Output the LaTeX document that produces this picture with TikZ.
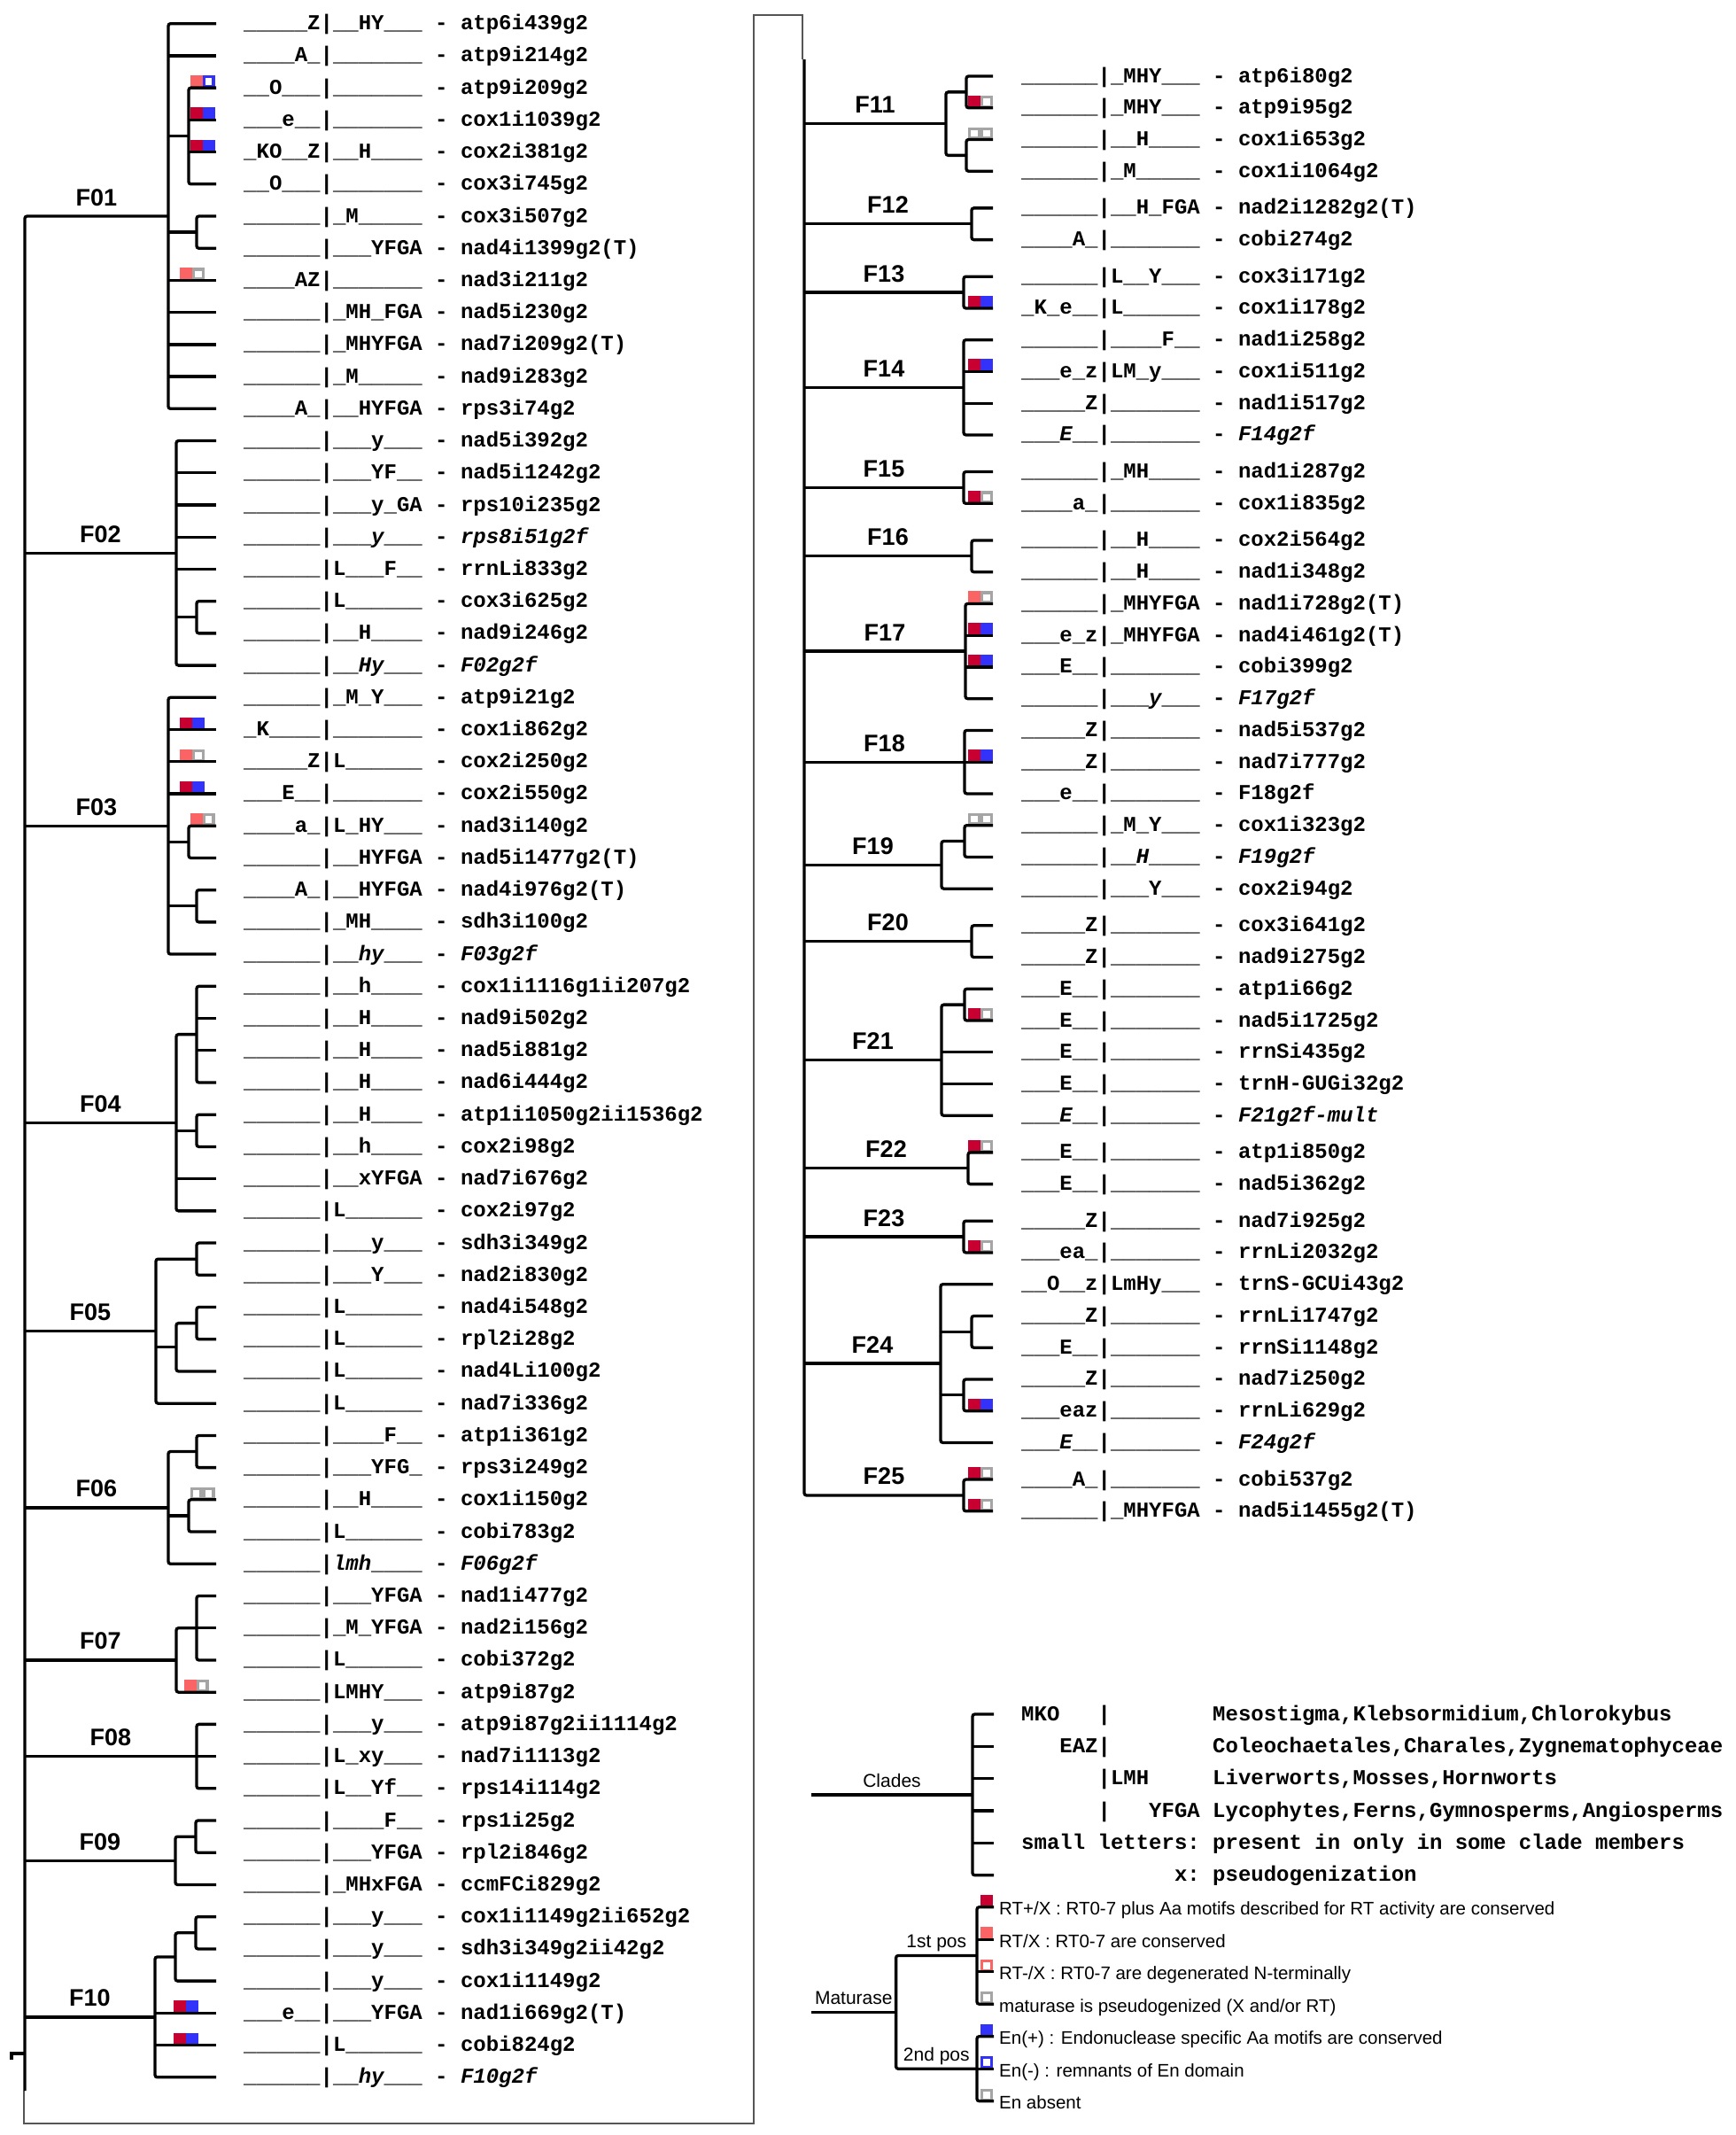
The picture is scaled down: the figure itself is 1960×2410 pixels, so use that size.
\documentclass[tikz,border=0pt]{standalone}
\usepackage{fontspec}
\newfontfamily\cour{Liberation Mono}
\newfontfamily\arl{Liberation Sans}
\definecolor{DRed}{RGB}{200,0,50}
\definecolor{LRed}{RGB}{250,100,100}
\definecolor{Bl}{RGB}{50,50,250}
\definecolor{Gr}{RGB}{165,165,165}
\definecolor{Fr}{RGB}{85,85,85}
\newcommand\myraw[1]{\detokenize{#1}}
\newcommand\LY[1]{(26.7+36.22*(#1))}
\newcommand\LM[2]{((\LY{#1}+\LY{#2})/2)}
\newcommand\RY[1]{(86+35.75*(#1)+5.85*(((#1)>3)+((#1)>5)+((#1)>11)+((#1)>13)+((#1)>25)+((#1)>32)+((#1)>34)+((#1)>42)))}
\newcommand\RM[2]{((\RY{#1}+\RY{#2})/2)}
\newcommand\hbr[3]{\draw[br] (#1,{#3}) -- (#2,{#3});}
\newcommand\bracketd[5]{\draw[br] (#2,{#3}) -- (#1,{#3}) -- (#1,{#5}) -- (#4,{#5});}
\newcommand\sqF[3]{\fill[#3] ({#1},{#2-14}) rectangle ({#1+14},{#2});}
\newcommand\sqO[3]{\fill[#3] ({#1},{#2-14}) rectangle ({#1+14},{#2});\fill[white] ({#1+3.2},{#2-10.8}) rectangle ({#1+10.8},{#2-3.2});}
\newcommand\mk[6]{\csname sq#3\endcsname{#1-14}{#2}{#4}\csname sq#5\endcsname{#1}{#2}{#6}}
\def\LTe{244}
\def\RTe{1121}
\newcommand\cyy[1]{(1935+36.35*(#1))}
\newcommand\myy[1]{(2152.7+36.5*(#1))}
\begin{document}
\begin{tikzpicture}[x=1pt,y=-1pt,
  br/.style={line width=3.3pt,rounded corners=2.5pt},
  frame/.style={line width=2.2pt,draw=Fr},
  lab/.style={anchor=base west,inner sep=0pt,font=\cour\bfseries\fontsize{24}{28}\selectfont},
  fam/.style={anchor=base,inner sep=0pt,font=\arl\bfseries\fontsize{27}{30}\selectfont},
  leg/.style={anchor=base west,inner sep=0pt,font=\arl\fontsize{20.5}{24}\selectfont},
  legc/.style={anchor=base,inner sep=0pt,font=\arl\fontsize{21}{24}\selectfont}]
\useasboundingbox (0,0) rectangle (1960,2410);
% ---------- family heights
\pgfmathsetmacro\yfA{\LM{0}{12}}
\pgfmathsetmacro\yfB{\LM{13}{20}}
\pgfmathsetmacro\yfC{\LM{21}{29}}
\pgfmathsetmacro\yfD{(\LM{30}{33}+\LY{37})/2}
\pgfmathsetmacro\yfE{(\LM{38}{39}+\LY{43})/2}
\pgfmathsetmacro\yfF{(\LM{44}{45}+\LY{48})/2}
\pgfmathsetmacro\yfG{(\LM{49}{51}+\LY{52})/2}
\pgfmathsetmacro\yfH{\LY{54}}
\pgfmathsetmacro\yfI{(\LM{56}{57}+\LY{58})/2}
\pgfmathsetmacro\yfJ{((\LM{59}{60}+\LY{61})/2+\LY{64})/2}
\pgfmathsetmacro\yfK{(\RM{0}{1}+\RM{2}{3})/2}
\pgfmathsetmacro\yfL{\RM{4}{5}}
\pgfmathsetmacro\yfM{\RM{6}{7}}
\pgfmathsetmacro\yfN{\RM{8}{11}}
\pgfmathsetmacro\yfO{\RM{12}{13}}
\pgfmathsetmacro\yfP{\RM{14}{15}}
\pgfmathsetmacro\yfQ{\RM{16}{19}}
\pgfmathsetmacro\yfR{\RY{21}}
\pgfmathsetmacro\yfS{(\RM{23}{24}+\RY{25})/2}
\pgfmathsetmacro\yfT{\RM{26}{27}}
\pgfmathsetmacro\yfU{(\RM{28}{29}+\RY{32})/2}
\pgfmathsetmacro\yfV{\RM{33}{34}}
\pgfmathsetmacro\yfW{\RM{35}{36}}
\pgfmathsetmacro\yfX{\RM{37}{42}}
\pgfmathsetmacro\yfY{\RM{43}{44}}
% ---------- markers (left)
\mk{228.5}{\LY{2}}{F}{LRed}{O}{Bl}
\mk{228.5}{\LY{3}}{F}{DRed}{F}{Bl}
\mk{228.5}{\LY{4}}{F}{DRed}{F}{Bl}
\mk{217}{\LY{8}}{F}{LRed}{O}{Gr}
\mk{217}{\LY{22}}{F}{DRed}{F}{Bl}
\mk{217}{\LY{23}}{F}{LRed}{O}{Gr}
\mk{217}{\LY{24}}{F}{DRed}{F}{Bl}
\mk{228.5}{\LY{25}}{F}{LRed}{O}{Gr}
\mk{228.5}{\LY{46}}{O}{Gr}{O}{Gr}
\mk{221.5}{\LY{52}}{F}{LRed}{O}{Gr}
\mk{209.5}{\LY{62}}{F}{DRed}{F}{Bl}
\mk{209.5}{\LY{63}}{F}{DRed}{F}{Bl}
% ---------- markers (right)
\mk{1107}{\RY{1}}{F}{DRed}{O}{Gr}
\mk{1107}{\RY{2}}{O}{Gr}{O}{Gr}
\mk{1107}{\RY{7}}{F}{DRed}{F}{Bl}
\mk{1107}{\RY{9}}{F}{DRed}{F}{Bl}
\mk{1107}{\RY{13}}{F}{DRed}{O}{Gr}
\mk{1107}{\RY{16}}{F}{LRed}{O}{Gr}
\mk{1107}{\RY{17}}{F}{DRed}{F}{Bl}
\mk{1107}{\RY{18}}{F}{DRed}{F}{Bl}
\mk{1107}{\RY{21}}{F}{DRed}{F}{Bl}
\mk{1107}{\RY{23}}{O}{Gr}{O}{Gr}
\mk{1107}{\RY{29}}{F}{DRed}{O}{Gr}
\mk{1107}{\RY{33}}{F}{DRed}{O}{Gr}
\mk{1107}{\RY{36}}{F}{DRed}{O}{Gr}
\mk{1107}{\RY{41}}{F}{DRed}{F}{Bl}
\mk{1107}{\RY{43}}{F}{DRed}{O}{Gr}
\mk{1107}{\RY{44}}{F}{DRed}{O}{Gr}
% ---------- frame
\draw[frame] (27,2360) -- (27,2397) -- (851,2397) -- (851,17) -- (906,17) -- (906,67);
\draw[line width=4pt] (13,2325) -- (13,2318) -- (28,2318);
% ---------- left roots
\draw[br] (190,\yfA) -- (28,\yfA) -- (28,2360);
\hbr{28}{199}{\yfB}
\hbr{28}{190}{\yfC}
\hbr{28}{199}{\yfD}
\hbr{28}{176}{\yfE}
\hbr{28}{190}{\yfF}
\hbr{28}{199}{\yfG}
\hbr{28}{222}{\yfH}
\hbr{28}{198}{\yfI}
\hbr{28}{175}{\yfJ}
% F01
\bracketd{190}{\LTe}{\LY{0}}{\LTe}{\LY{12}}
\foreach \i in {1,8,9,10,11} {\hbr{190}{\LTe}{\LY{\i}}}
\hbr{190}{213}{\LM{2}{5}}
\hbr{190}{222}{\LM{6}{7}}
\bracketd{213}{\LTe}{\LY{2}}{\LTe}{\LY{5}}
\foreach \i in {3,4} {\hbr{213}{\LTe}{\LY{\i}}}
\bracketd{222}{\LTe}{\LY{6}}{\LTe}{\LY{7}}
% F02
\bracketd{199}{\LTe}{\LY{13}}{\LTe}{\LY{20}}
\foreach \i in {14,15,16,17} {\hbr{199}{\LTe}{\LY{\i}}}
\hbr{199}{222}{\LM{18}{19}}
\bracketd{222}{\LTe}{\LY{18}}{\LTe}{\LY{19}}
% F03
\bracketd{190}{\LTe}{\LY{21}}{\LTe}{\LY{29}}
\foreach \i in {22,23,24} {\hbr{190}{\LTe}{\LY{\i}}}
\hbr{190}{213}{\LM{25}{26}}
\hbr{190}{222}{\LM{27}{28}}
\bracketd{213}{\LTe}{\LY{25}}{\LTe}{\LY{26}}
\bracketd{222}{\LTe}{\LY{27}}{\LTe}{\LY{28}}
% F04
\bracketd{199}{222}{\LM{30}{33}}{\LTe}{\LY{37}}
\hbr{199}{222}{\LM{34}{35}}
\hbr{199}{\LTe}{\LY{36}}
\bracketd{222}{\LTe}{\LY{30}}{\LTe}{\LY{33}}
\foreach \i in {31,32} {\hbr{222}{\LTe}{\LY{\i}}}
\bracketd{222}{\LTe}{\LY{34}}{\LTe}{\LY{35}}
% F05
\bracketd{176}{222}{\LM{38}{39}}{\LTe}{\LY{43}}
\hbr{176}{199}{(\LM{40}{41}+\LY{42})/2}
\bracketd{222}{\LTe}{\LY{38}}{\LTe}{\LY{39}}
\bracketd{199}{222}{\LM{40}{41}}{\LTe}{\LY{42}}
\bracketd{222}{\LTe}{\LY{40}}{\LTe}{\LY{41}}
% F06
\bracketd{190}{222}{\LM{44}{45}}{\LTe}{\LY{48}}
\hbr{190}{213}{\LM{46}{47}}
\bracketd{222}{\LTe}{\LY{44}}{\LTe}{\LY{45}}
\bracketd{213}{\LTe}{\LY{46}}{\LTe}{\LY{47}}
% F07
\bracketd{199}{222}{\LM{49}{51}}{\LTe}{\LY{52}}
\bracketd{222}{\LTe}{\LY{49}}{\LTe}{\LY{51}}
\hbr{222}{\LTe}{\LY{50}}
% F08
\bracketd{222}{\LTe}{\LY{53}}{\LTe}{\LY{55}}
\hbr{222}{\LTe}{\LY{54}}
% F09
\bracketd{198}{221}{\LM{56}{57}}{\LTe}{\LY{58}}
\bracketd{221}{\LTe}{\LY{56}}{\LTe}{\LY{57}}
% F10
\bracketd{175}{198}{(\LM{59}{60}+\LY{61})/2}{\LTe}{\LY{64}}
\foreach \i in {62,63} {\hbr{175}{\LTe}{\LY{\i}}}
\bracketd{198}{221}{\LM{59}{60}}{\LTe}{\LY{61}}
\bracketd{221}{\LTe}{\LY{59}}{\LTe}{\LY{60}}
% ---------- right roots
\draw[br] (908,67) -- (908,\yfY) -- (1088,\yfY);
\hbr{908}{1068}{\yfK}
\hbr{908}{1097}{\yfL}
\hbr{908}{1088}{\yfM}
\hbr{908}{1088}{\yfN}
\hbr{908}{1088}{\yfO}
\hbr{908}{1097}{\yfP}
\hbr{908}{1090}{\yfQ}
\hbr{908}{1089}{\yfR}
\hbr{908}{1063}{\yfS}
\hbr{908}{1097}{\yfT}
\hbr{908}{1063}{\yfU}
\hbr{908}{1093}{\yfV}
\hbr{908}{1088}{\yfW}
\hbr{908}{1062}{\yfX}
% F11
\bracketd{1068}{1091}{\RM{0}{1}}{1091}{\RM{2}{3}}
\bracketd{1091}{\RTe}{\RY{0}}{\RTe}{\RY{1}}
\bracketd{1091}{\RTe}{\RY{2}}{\RTe}{\RY{3}}
% F12-F18
\bracketd{1097}{\RTe}{\RY{4}}{\RTe}{\RY{5}}
\bracketd{1088}{\RTe}{\RY{6}}{\RTe}{\RY{7}}
\bracketd{1088}{\RTe}{\RY{8}}{\RTe}{\RY{11}}
\foreach \i in {9,10} {\hbr{1088}{\RTe}{\RY{\i}}}
\bracketd{1088}{\RTe}{\RY{12}}{\RTe}{\RY{13}}
\bracketd{1097}{\RTe}{\RY{14}}{\RTe}{\RY{15}}
\bracketd{1090}{\RTe}{\RY{16}}{\RTe}{\RY{19}}
\foreach \i in {17,18} {\hbr{1090}{\RTe}{\RY{\i}}}
\bracketd{1089}{\RTe}{\RY{20}}{\RTe}{\RY{22}}
\hbr{1089}{\RTe}{\RY{21}}
% F19
\bracketd{1063}{1089}{\RM{23}{24}}{\RTe}{\RY{25}}
\bracketd{1089}{\RTe}{\RY{23}}{\RTe}{\RY{24}}
% F20
\bracketd{1097}{\RTe}{\RY{26}}{\RTe}{\RY{27}}
% F21
\bracketd{1063}{1089}{\RM{28}{29}}{\RTe}{\RY{32}}
\foreach \i in {30,31} {\hbr{1063}{\RTe}{\RY{\i}}}
\bracketd{1089}{\RTe}{\RY{28}}{\RTe}{\RY{29}}
% F22, F23
\bracketd{1093}{\RTe}{\RY{33}}{\RTe}{\RY{34}}
\bracketd{1088}{\RTe}{\RY{35}}{\RTe}{\RY{36}}
% F24
\bracketd{1062}{\RTe}{\RY{37}}{\RTe}{\RY{42}}
\hbr{1062}{1097}{\RM{38}{39}}
\hbr{1062}{1088}{\RM{40}{41}}
\bracketd{1097}{\RTe}{\RY{38}}{\RTe}{\RY{39}}
\bracketd{1088}{\RTe}{\RY{40}}{\RTe}{\RY{41}}
% F25
\bracketd{1088}{\RTe}{\RY{43}}{\RTe}{\RY{44}}
% ---------- family labels
\node[fam] (f01) at ({(28+190)/2},{\yfA-12}) {F01};
\node[fam] (f02) at ({(28+199)/2},{\yfB-12}) {F02};
\node[fam] (f03) at ({(28+190)/2},{\yfC-12}) {F03};
\node[fam] (f04) at ({(28+199)/2},{\yfD-12}) {F04};
\node[fam] (f05) at ({(28+176)/2},{\yfE-12}) {F05};
\node[fam] (f06) at ({(28+190)/2},{\yfF-12}) {F06};
\node[fam] (f07) at ({(28+199)/2},{\yfG-12}) {F07};
\node[fam] (f08) at ({(28+222)/2},{\yfH-12}) {F08};
\node[fam] (f09) at ({(28+198)/2},{\yfI-12}) {F09};
\node[fam] (f10) at ({(28+175)/2},{\yfJ-12}) {F10};
\node[fam] (f11) at ({(908+1068)/2},{\yfK-12}) {F11};
\node[fam] (f12) at ({(908+1097)/2},{\yfL-12}) {F12};
\node[fam] (f13) at ({(908+1088)/2},{\yfM-12}) {F13};
\node[fam] (f14) at ({(908+1088)/2},{\yfN-12}) {F14};
\node[fam] (f15) at ({(908+1088)/2},{\yfO-12}) {F15};
\node[fam] (f16) at ({(908+1097)/2},{\yfP-12}) {F16};
\node[fam] (f17) at ({(908+1090)/2},{\yfQ-12}) {F17};
\node[fam] (f18) at ({(908+1089)/2},{\yfR-12}) {F18};
\node[fam] (f19) at ({(908+1063)/2},{\yfS-12}) {F19};
\node[fam] (f20) at ({(908+1097)/2},{\yfT-12}) {F20};
\node[fam] (f21) at ({(908+1063)/2},{\yfU-12}) {F21};
\node[fam] (f22) at ({(908+1093)/2},{\yfV-12}) {F22};
\node[fam] (f23) at ({(908+1088)/2},{\yfW-12}) {F23};
\node[fam] (f24) at ({(908+1062)/2},{\yfX-12}) {F24};
\node[fam] (f25) at ({(908+1088)/2},{\yfY-12}) {F25};
% ---------- left labels
\node[lab] (l0) at (275,{\LY{0}+7}) {\myraw{_____Z|__HY___} - atp6i439g2};
\node[lab] (l1) at (275,{\LY{1}+7}) {\myraw{____A_|_______} - atp9i214g2};
\node[lab] (l2) at (275,{\LY{2}+7}) {\myraw{__O___|_______} - atp9i209g2};
\node[lab] (l3) at (275,{\LY{3}+7}) {\myraw{___e__|_______} - cox1i1039g2};
\node[lab] (l4) at (275,{\LY{4}+7}) {\myraw{_KO__Z|__H____} - cox2i381g2};
\node[lab] (l5) at (275,{\LY{5}+7}) {\myraw{__O___|_______} - cox3i745g2};
\node[lab] (l6) at (275,{\LY{6}+7}) {\myraw{______|_M_____} - cox3i507g2};
\node[lab] (l7) at (275,{\LY{7}+7}) {\myraw{______|___YFGA} - nad4i1399g2(T)};
\node[lab] (l8) at (275,{\LY{8}+7}) {\myraw{____AZ|_______} - nad3i211g2};
\node[lab] (l9) at (275,{\LY{9}+7}) {\myraw{______|_MH_FGA} - nad5i230g2};
\node[lab] (l10) at (275,{\LY{10}+7}) {\myraw{______|_MHYFGA} - nad7i209g2(T)};
\node[lab] (l11) at (275,{\LY{11}+7}) {\myraw{______|_M_____} - nad9i283g2};
\node[lab] (l12) at (275,{\LY{12}+7}) {\myraw{____A_|__HYFGA} - rps3i74g2};
\node[lab] (l13) at (275,{\LY{13}+7}) {\myraw{______|___y___} - nad5i392g2};
\node[lab] (l14) at (275,{\LY{14}+7}) {\myraw{______|___YF__} - nad5i1242g2};
\node[lab] (l15) at (275,{\LY{15}+7}) {\myraw{______|___y_GA} - rps10i235g2};
\node[lab] (l16) at (275,{\LY{16}+7}) {\myraw{______|___}{\itshape y}\myraw{___} - {\itshape rps8i51g2f}};
\node[lab] (l17) at (275,{\LY{17}+7}) {\myraw{______|L___F__} - rrnLi833g2};
\node[lab] (l18) at (275,{\LY{18}+7}) {\myraw{______|L______} - cox3i625g2};
\node[lab] (l19) at (275,{\LY{19}+7}) {\myraw{______|__H____} - nad9i246g2};
\node[lab] (l20) at (275,{\LY{20}+7}) {\myraw{______|__}{\itshape Hy}\myraw{___} - {\itshape F02g2f}};
\node[lab] (l21) at (275,{\LY{21}+7}) {\myraw{______|_M_Y___} - atp9i21g2};
\node[lab] (l22) at (275,{\LY{22}+7}) {\myraw{_K____|_______} - cox1i862g2};
\node[lab] (l23) at (275,{\LY{23}+7}) {\myraw{_____Z|L______} - cox2i250g2};
\node[lab] (l24) at (275,{\LY{24}+7}) {\myraw{___E__|_______} - cox2i550g2};
\node[lab] (l25) at (275,{\LY{25}+7}) {\myraw{____a_|L_HY___} - nad3i140g2};
\node[lab] (l26) at (275,{\LY{26}+7}) {\myraw{______|__HYFGA} - nad5i1477g2(T)};
\node[lab] (l27) at (275,{\LY{27}+7}) {\myraw{____A_|__HYFGA} - nad4i976g2(T)};
\node[lab] (l28) at (275,{\LY{28}+7}) {\myraw{______|_MH____} - sdh3i100g2};
\node[lab] (l29) at (275,{\LY{29}+7}) {\myraw{______|__}{\itshape hy}\myraw{___} - {\itshape F03g2f}};
\node[lab] (l30) at (275,{\LY{30}+7}) {\myraw{______|__h____} - cox1i1116g1ii207g2};
\node[lab] (l31) at (275,{\LY{31}+7}) {\myraw{______|__H____} - nad9i502g2};
\node[lab] (l32) at (275,{\LY{32}+7}) {\myraw{______|__H____} - nad5i881g2};
\node[lab] (l33) at (275,{\LY{33}+7}) {\myraw{______|__H____} - nad6i444g2};
\node[lab] (l34) at (275,{\LY{34}+7}) {\myraw{______|__H____} - atp1i1050g2ii1536g2};
\node[lab] (l35) at (275,{\LY{35}+7}) {\myraw{______|__h____} - cox2i98g2};
\node[lab] (l36) at (275,{\LY{36}+7}) {\myraw{______|__xYFGA} - nad7i676g2};
\node[lab] (l37) at (275,{\LY{37}+7}) {\myraw{______|L______} - cox2i97g2};
\node[lab] (l38) at (275,{\LY{38}+7}) {\myraw{______|___y___} - sdh3i349g2};
\node[lab] (l39) at (275,{\LY{39}+7}) {\myraw{______|___Y___} - nad2i830g2};
\node[lab] (l40) at (275,{\LY{40}+7}) {\myraw{______|L______} - nad4i548g2};
\node[lab] (l41) at (275,{\LY{41}+7}) {\myraw{______|L______} - rpl2i28g2};
\node[lab] (l42) at (275,{\LY{42}+7}) {\myraw{______|L______} - nad4Li100g2};
\node[lab] (l43) at (275,{\LY{43}+7}) {\myraw{______|L______} - nad7i336g2};
\node[lab] (l44) at (275,{\LY{44}+7}) {\myraw{______|____F__} - atp1i361g2};
\node[lab] (l45) at (275,{\LY{45}+7}) {\myraw{______|___YFG_} - rps3i249g2};
\node[lab] (l46) at (275,{\LY{46}+7}) {\myraw{______|__H____} - cox1i150g2};
\node[lab] (l47) at (275,{\LY{47}+7}) {\myraw{______|L______} - cobi783g2};
\node[lab] (l48) at (275,{\LY{48}+7}) {\myraw{______|}{\itshape lmh}\myraw{____} - {\itshape F06g2f}};
\node[lab] (l49) at (275,{\LY{49}+7}) {\myraw{______|___YFGA} - nad1i477g2};
\node[lab] (l50) at (275,{\LY{50}+7}) {\myraw{______|_M_YFGA} - nad2i156g2};
\node[lab] (l51) at (275,{\LY{51}+7}) {\myraw{______|L______} - cobi372g2};
\node[lab] (l52) at (275,{\LY{52}+7}) {\myraw{______|LMHY___} - atp9i87g2};
\node[lab] (l53) at (275,{\LY{53}+7}) {\myraw{______|___y___} - atp9i87g2ii1114g2};
\node[lab] (l54) at (275,{\LY{54}+7}) {\myraw{______|L_xy___} - nad7i1113g2};
\node[lab] (l55) at (275,{\LY{55}+7}) {\myraw{______|L__Yf__} - rps14i114g2};
\node[lab] (l56) at (275,{\LY{56}+7}) {\myraw{______|____F__} - rps1i25g2};
\node[lab] (l57) at (275,{\LY{57}+7}) {\myraw{______|___YFGA} - rpl2i846g2};
\node[lab] (l58) at (275,{\LY{58}+7}) {\myraw{______|_MHxFGA} - ccmFCi829g2};
\node[lab] (l59) at (275,{\LY{59}+7}) {\myraw{______|___y___} - cox1i1149g2ii652g2};
\node[lab] (l60) at (275,{\LY{60}+7}) {\myraw{______|___y___} - sdh3i349g2ii42g2};
\node[lab] (l61) at (275,{\LY{61}+7}) {\myraw{______|___y___} - cox1i1149g2};
\node[lab] (l62) at (275,{\LY{62}+7}) {\myraw{___e__|___YFGA} - nad1i669g2(T)};
\node[lab] (l63) at (275,{\LY{63}+7}) {\myraw{______|L______} - cobi824g2};
\node[lab] (l64) at (275,{\LY{64}+7}) {\myraw{______|__}{\itshape hy}\myraw{___} - {\itshape F10g2f}};
% ---------- right labels
\node[lab] (r0) at (1153,{\RY{0}+7}) {\myraw{______|_MHY___} - atp6i80g2};
\node[lab] (r1) at (1153,{\RY{1}+7}) {\myraw{______|_MHY___} - atp9i95g2};
\node[lab] (r2) at (1153,{\RY{2}+7}) {\myraw{______|__H____} - cox1i653g2};
\node[lab] (r3) at (1153,{\RY{3}+7}) {\myraw{______|_M_____} - cox1i1064g2};
\node[lab] (r4) at (1153,{\RY{4}+7}) {\myraw{______|__H_FGA} - nad2i1282g2(T)};
\node[lab] (r5) at (1153,{\RY{5}+7}) {\myraw{____A_|_______} - cobi274g2};
\node[lab] (r6) at (1153,{\RY{6}+7}) {\myraw{______|L__Y___} - cox3i171g2};
\node[lab] (r7) at (1153,{\RY{7}+7}) {\myraw{_K_e__|L______} - cox1i178g2};
\node[lab] (r8) at (1153,{\RY{8}+7}) {\myraw{______|____F__} - nad1i258g2};
\node[lab] (r9) at (1153,{\RY{9}+7}) {\myraw{___e_z|LM_y___} - cox1i511g2};
\node[lab] (r10) at (1153,{\RY{10}+7}) {\myraw{_____Z|_______} - nad1i517g2};
\node[lab] (r11) at (1153,{\RY{11}+7}) {\myraw{___}{\itshape E}\myraw{__|_______} - {\itshape F14g2f}};
\node[lab] (r12) at (1153,{\RY{12}+7}) {\myraw{______|_MH____} - nad1i287g2};
\node[lab] (r13) at (1153,{\RY{13}+7}) {\myraw{____a_|_______} - cox1i835g2};
\node[lab] (r14) at (1153,{\RY{14}+7}) {\myraw{______|__H____} - cox2i564g2};
\node[lab] (r15) at (1153,{\RY{15}+7}) {\myraw{______|__H____} - nad1i348g2};
\node[lab] (r16) at (1153,{\RY{16}+7}) {\myraw{______|_MHYFGA} - nad1i728g2(T)};
\node[lab] (r17) at (1153,{\RY{17}+7}) {\myraw{___e_z|_MHYFGA} - nad4i461g2(T)};
\node[lab] (r18) at (1153,{\RY{18}+7}) {\myraw{___E__|_______} - cobi399g2};
\node[lab] (r19) at (1153,{\RY{19}+7}) {\myraw{______|___}{\itshape y}\myraw{___} - {\itshape F17g2f}};
\node[lab] (r20) at (1153,{\RY{20}+7}) {\myraw{_____Z|_______} - nad5i537g2};
\node[lab] (r21) at (1153,{\RY{21}+7}) {\myraw{_____Z|_______} - nad7i777g2};
\node[lab] (r22) at (1153,{\RY{22}+7}) {\myraw{___e__|_______} - F18g2f};
\node[lab] (r23) at (1153,{\RY{23}+7}) {\myraw{______|_M_Y___} - cox1i323g2};
\node[lab] (r24) at (1153,{\RY{24}+7}) {\myraw{______|__}{\itshape H}\myraw{____} - {\itshape F19g2f}};
\node[lab] (r25) at (1153,{\RY{25}+7}) {\myraw{______|___Y___} - cox2i94g2};
\node[lab] (r26) at (1153,{\RY{26}+7}) {\myraw{_____Z|_______} - cox3i641g2};
\node[lab] (r27) at (1153,{\RY{27}+7}) {\myraw{_____Z|_______} - nad9i275g2};
\node[lab] (r28) at (1153,{\RY{28}+7}) {\myraw{___E__|_______} - atp1i66g2};
\node[lab] (r29) at (1153,{\RY{29}+7}) {\myraw{___E__|_______} - nad5i1725g2};
\node[lab] (r30) at (1153,{\RY{30}+7}) {\myraw{___E__|_______} - rrnSi435g2};
\node[lab] (r31) at (1153,{\RY{31}+7}) {\myraw{___E__|_______} - trnH-GUGi32g2};
\node[lab] (r32) at (1153,{\RY{32}+7}) {\myraw{___}{\itshape E}\myraw{__|_______} - {\itshape F21g2f-mult}};
\node[lab] (r33) at (1153,{\RY{33}+7}) {\myraw{___E__|_______} - atp1i850g2};
\node[lab] (r34) at (1153,{\RY{34}+7}) {\myraw{___E__|_______} - nad5i362g2};
\node[lab] (r35) at (1153,{\RY{35}+7}) {\myraw{_____Z|_______} - nad7i925g2};
\node[lab] (r36) at (1153,{\RY{36}+7}) {\myraw{___ea_|_______} - rrnLi2032g2};
\node[lab] (r37) at (1153,{\RY{37}+7}) {\myraw{__O__z|LmHy___} - trnS-GCUi43g2};
\node[lab] (r38) at (1153,{\RY{38}+7}) {\myraw{_____Z|_______} - rrnLi1747g2};
\node[lab] (r39) at (1153,{\RY{39}+7}) {\myraw{___E__|_______} - rrnSi1148g2};
\node[lab] (r40) at (1153,{\RY{40}+7}) {\myraw{_____Z|_______} - nad7i250g2};
\node[lab] (r41) at (1153,{\RY{41}+7}) {\myraw{___eaz|_______} - rrnLi629g2};
\node[lab] (r42) at (1153,{\RY{42}+7}) {\myraw{___}{\itshape E}\myraw{__|_______} - {\itshape F24g2f}};
\node[lab] (r43) at (1153,{\RY{43}+7}) {\myraw{____A_|_______} - cobi537g2};
\node[lab] (r44) at (1153,{\RY{44}+7}) {\myraw{______|_MHYFGA} - nad5i1455g2(T)};
% ---------- legend: clades
\bracketd{1098}{1122}{\cyy{0}}{1122}{\cyy{5}}
\foreach \i in {1,2,3,4} {\hbr{1098}{1122}{\cyy{\i}}}
\hbr{916}{1098}{(\cyy{0}+\cyy{5})/2}
\node[legc] (clades) at ({(916+1098)/2},{(\cyy{0}+\cyy{5})/2-8.5}) {Clades};
\node[lab] (c0) at (1153,{\cyy{0}+7}) {MKO~~~|~~~~~~~~Mesostigma,Klebsormidium,Chlorokybus};
\node[lab] (c1) at (1153,{\cyy{1}+7}) {~~~EAZ|~~~~~~~~Coleochaetales,Charales,Zygnematophyceae};
\node[lab] (c2) at (1153,{\cyy{2}+7}) {~~~~~~|LMH~~~~~Liverworts,Mosses,Hornworts};
\node[lab] (c3) at (1153,{\cyy{3}+7}) {~~~~~~|~~~YFGA~Lycophytes,Ferns,Gymnosperms,Angiosperms};
\node[lab] (c4) at (1153,{\cyy{4}+7}) {small~letters:~present~in~only~in~some~clade~members};
\node[lab] (c5) at (1153,{\cyy{5}+7}) {~~~~~~~~~~~~x:~pseudogenization};
% ---------- legend: maturase
\sqF{1107}{\myy{0}}{DRed}
\sqF{1107}{\myy{1}}{LRed}
\sqO{1107}{\myy{2}}{LRed}
\sqO{1107}{\myy{3}}{Gr}
\sqF{1107}{\myy{4}}{Bl}
\sqO{1107}{\myy{5}}{Bl}
\sqO{1107}{\myy{6}}{Gr}
\bracketd{1103}{1122}{\myy{0}}{1122}{\myy{3}}
\foreach \i in {1,2} {\hbr{1103}{1122}{\myy{\i}}}
\bracketd{1103}{1122}{\myy{4}}{1122}{\myy{6}}
\hbr{1103}{1122}{\myy{5}}
\bracketd{1011.6}{1103}{(\myy{0}+\myy{3})/2}{1103}{\myy{5}}
\hbr{916}{1011.6}{((\myy{0}+\myy{3})/2+\myy{5})/2}
\node[legc] (mat) at ({(916+1011.6)/2},{((\myy{0}+\myy{3})/2+\myy{5})/2-9}) {Maturase};
\node[legc] (p1) at ({(1011.6+1103)/2},{(\myy{0}+\myy{3})/2-8.5}) {1st pos};
\node[legc] (p2) at ({(1011.6+1103)/2},{\myy{5}-9}) {2nd pos};
\node[leg] (m0) at (1128,{\myy{0}+9}) {RT+/X : RT0-7 plus Aa motifs described for RT activity are conserved};
\node[leg] (m1) at (1128,{\myy{1}+9}) {RT/X : RT0-7 are conserved};
\node[leg] (m2) at (1128,{\myy{2}+9}) {RT-/X : RT0-7 are degenerated N-terminally};
\node[leg] (m3) at (1128,{\myy{3}+9}) {maturase is pseudogenized (X and/or RT)};
\node[leg] (m4) at (1128,{\myy{4}+9}) {En(+) : Endonuclease specific Aa motifs are conserved};
\node[leg] (m5) at (1128,{\myy{5}+9}) {En(-) : remnants of En domain};
\node[leg] (m6) at (1128,{\myy{6}+9}) {En absent};
\end{tikzpicture}
\end{document}
